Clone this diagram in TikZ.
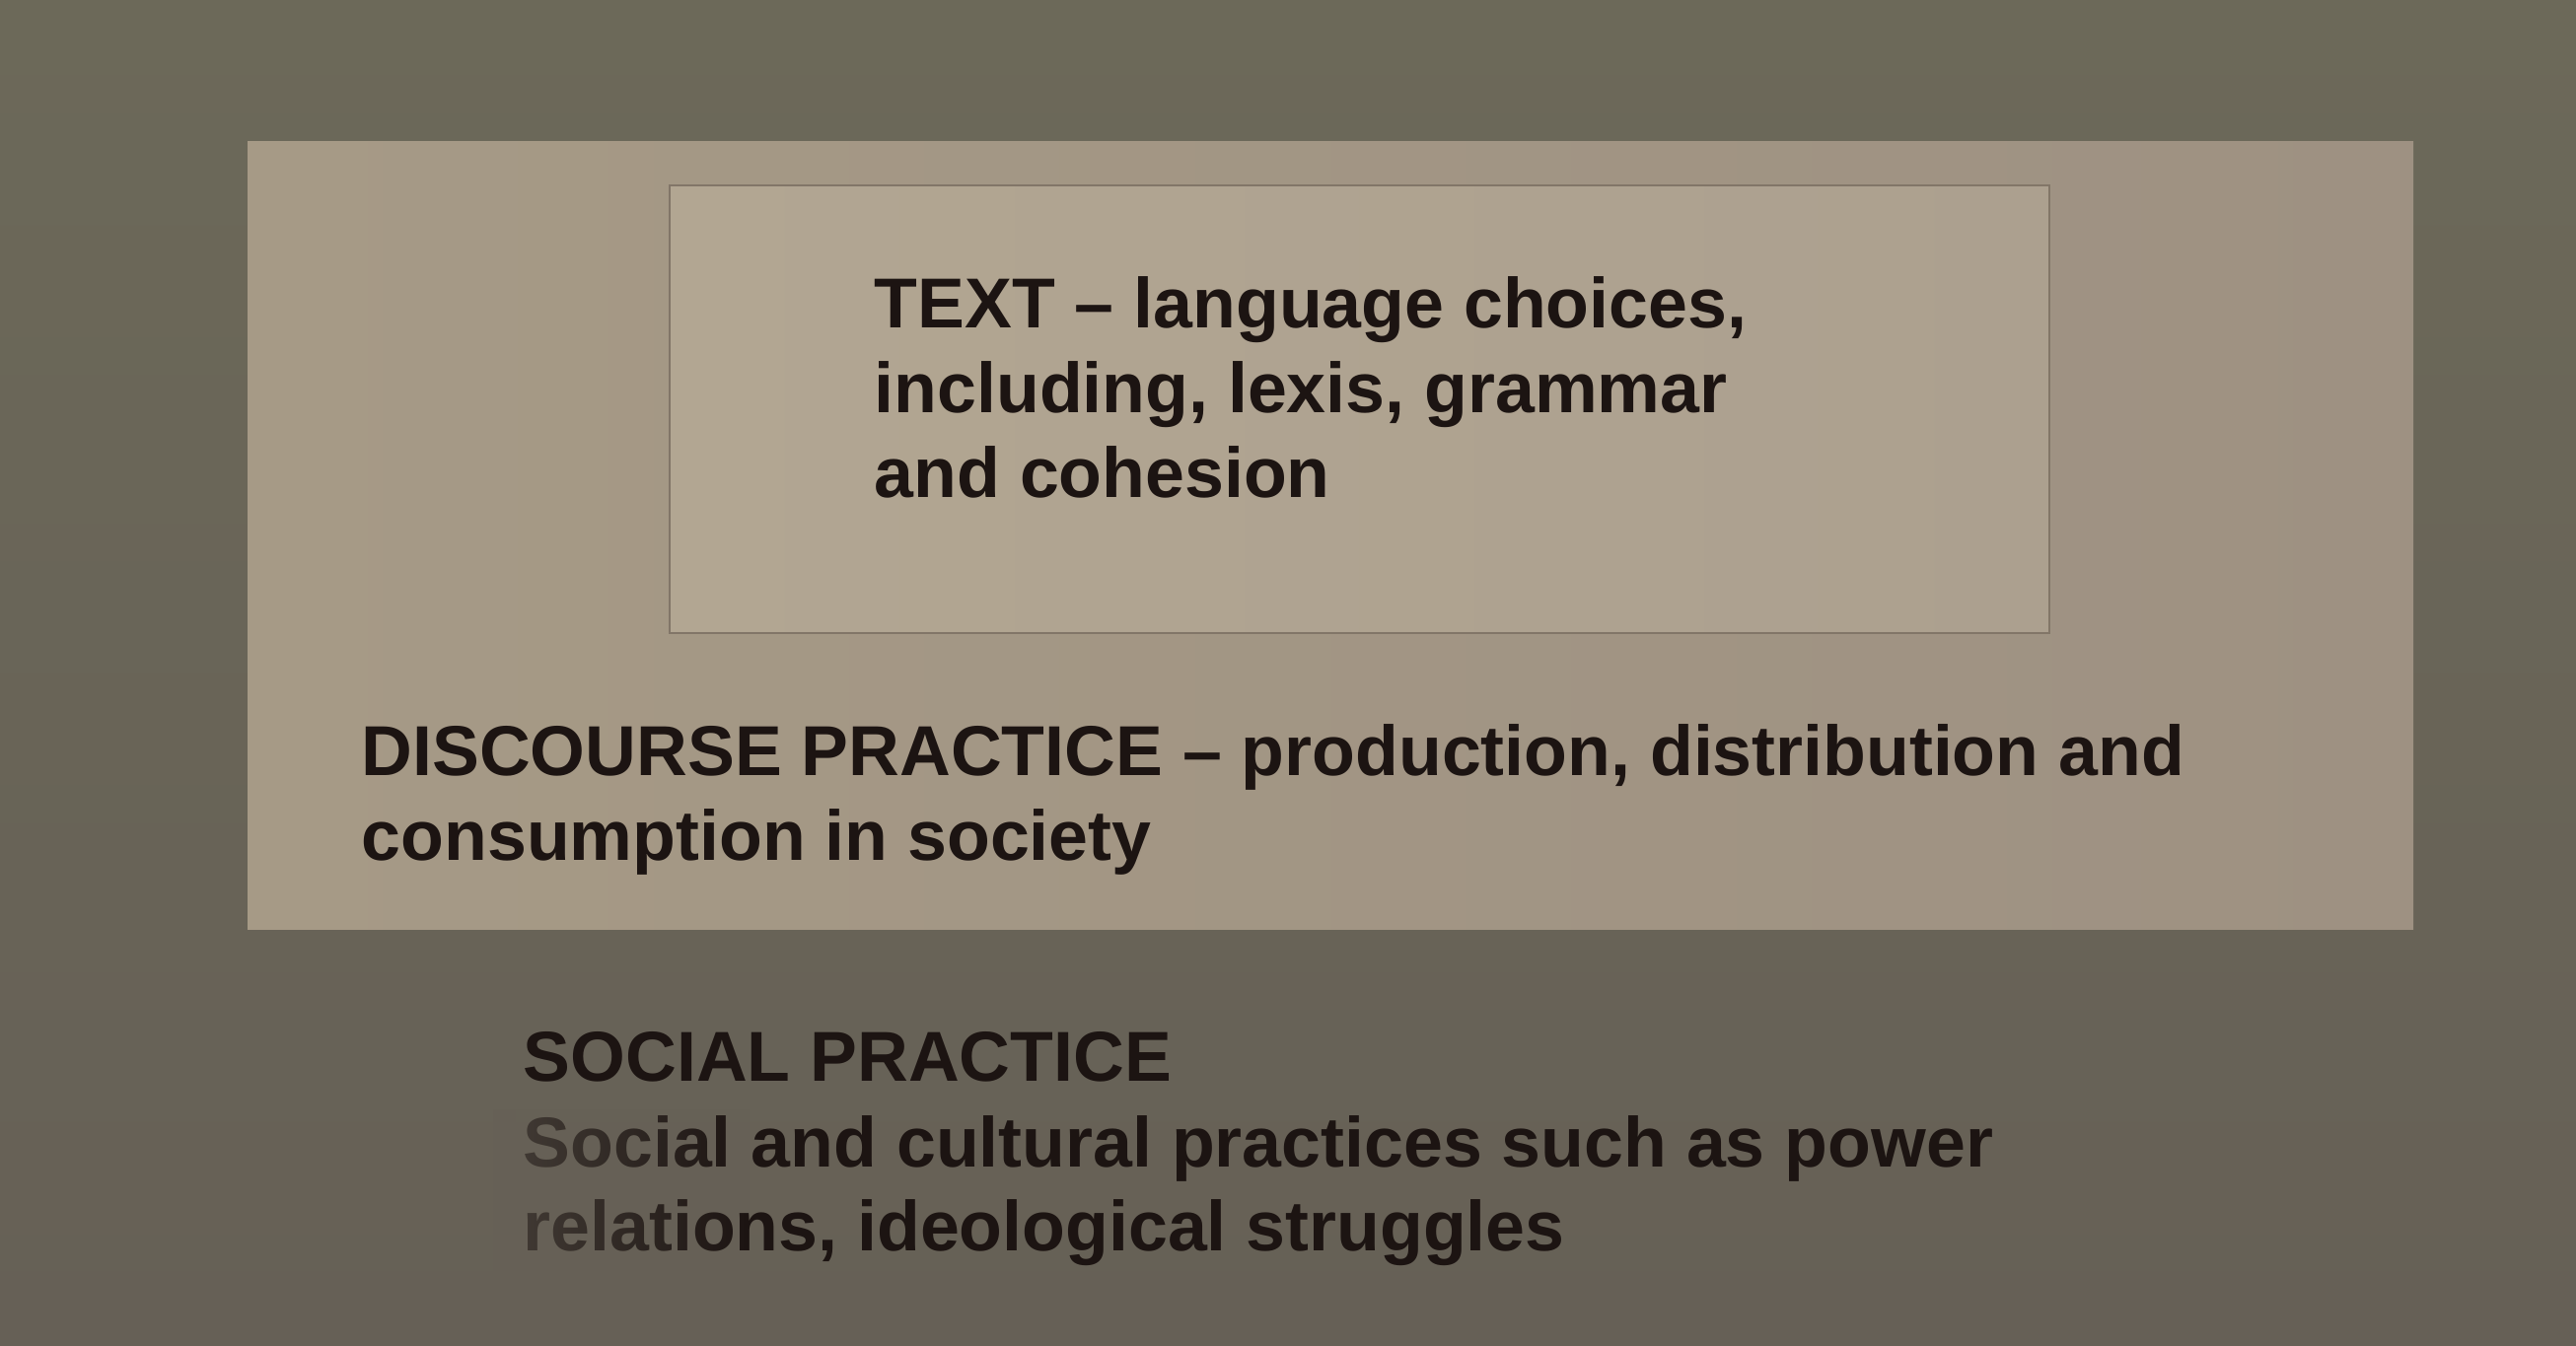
\documentclass[tikz,border=0pt]{standalone}
\usepackage{fontspec}
\setmainfont{Liberation Sans}
\usetikzlibrary{fadings}
\definecolor{bgtop}{RGB}{108,105,89}
\definecolor{bgbot}{RGB}{102,96,86}
\definecolor{outerL}{RGB}{166,154,134}
\definecolor{outerR}{RGB}{158,145,130}
\definecolor{innerL}{RGB}{178,166,146}
\definecolor{innerR}{RGB}{172,160,143}
\definecolor{edge}{RGB}{130,118,104}
\definecolor{ink}{RGB}{28,20,18}
\tikzset{
  lbl/.style={anchor=base west, inner sep=0pt, text=ink,
    font=\fontsize{20.4}{24.5}\selectfont\bfseries},
}
\begin{document}
\begin{tikzpicture}[x=0.1mm,y=-0.1mm]
\useasboundingbox (0,0) rectangle (2612,1365);
\shade[top color=bgtop, bottom color=bgbot] (0,0) rectangle (2612,1365);
% outer box: discourse practice
\shade[left color=outerL, right color=outerR] (251,144) rectangle (2447,943);
% inner box: text
\shade[left color=innerL, right color=innerR, draw=edge, line width=0.2mm] (679,188) rectangle (2078,642);
% text box labels
\node[lbl] (t1) at (886,333) {TEXT – language choices,};
\node[lbl] (t2) at (886,419) {including, lexis, grammar};
\node[lbl] (t3) at (886,505) {and cohesion};
% discourse practice labels
\node[lbl] (d1) at (366,787) {DISCOURSE PRACTICE – production, distribution and};
\node[lbl] (d2) at (366,873) {consumption in society};
% social practice labels
\node[lbl] (s1) at (530,1097) {SOCIAL PRACTICE};
\node[lbl] (s2) at (530,1183) {Social and cultural practices such as power};
\node[lbl] (s3) at (530,1268) {relations, ideological struggles};
% faded left part of the social practice text, as in the reference
\fill[bgbot, fill opacity=0.55, path fading=east] (500,1125) rectangle (760,1290);
\end{tikzpicture}
\end{document}
